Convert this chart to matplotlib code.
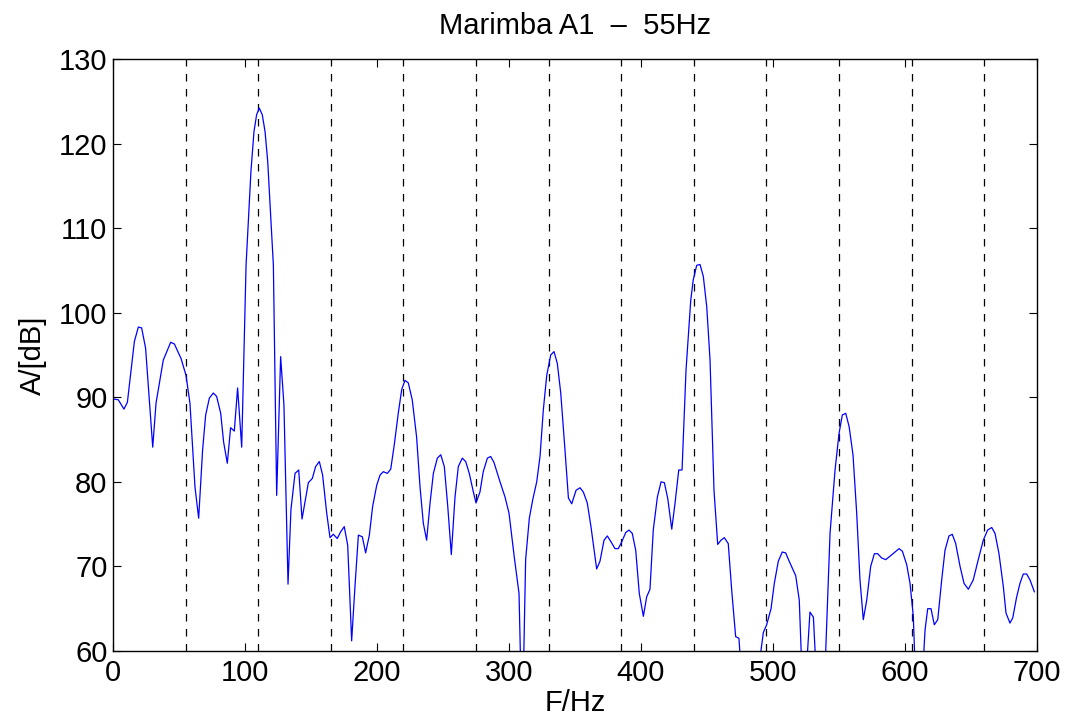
import numpy as np
import matplotlib
matplotlib.use("Agg")
import matplotlib.pyplot as plt

plt.rcParams['font.family'] = ['Liberation Sans', 'DejaVu Sans']

# spectrum (Hz, dB)
freq = [0.2, 4.0, 8.3, 10.9, 16.2, 19.2, 21.7, 24.7, 30.1, 32.6, 38.1, 43.7, 46.5, 51.5,
        55.3, 58.3, 62.1, 64.9, 67.9, 70.2, 73.0, 76.0, 78.5, 81.6, 83.8, 86.6, 89.1, 91.9,
        94.4, 97.5, 100.8, 102.5, 104.5, 106.8, 108.8, 110.8, 113.1, 115.2, 117.2, 119.5,
        121.5, 124.0, 127.0, 129.5, 132.6, 134.8, 137.9, 140.7, 143.2, 148.0, 151.0, 153.5,
        156.3, 158.8, 161.9, 164.4, 166.9, 169.9, 172.5, 175.2, 177.8, 180.8, 183.3, 185.9,
        188.9, 191.4, 194.2, 196.7, 199.8, 202.3, 204.8, 207.8, 210.4, 213.1, 216.1, 218.7,
        221.2, 223.7, 226.7, 230.0, 232.6, 235.1, 237.6, 240.2, 242.7, 245.7, 248.3, 251.0,
        253.6, 256.3, 259.1, 261.6, 264.6, 267.2, 269.9, 273.0, 275.0, 278.0, 280.5, 283.6,
        286.1, 288.6, 293.2, 297.0, 300.0, 304.0, 307.6, 310.0, 312.6, 315.4, 318.0, 321.0,
        323.5, 326.0, 328.6, 331.6, 334.1, 336.6, 339.2, 342.4, 345.0, 347.5, 350.8, 353.8,
        356.3, 359.3, 362.1, 366.4, 368.9, 372.0, 374.5, 377.3, 380.3, 382.8, 385.4, 388.4,
        390.9, 393.4, 396.0, 398.7, 401.8, 404.3, 406.8, 409.3, 412.4, 415.2, 417.7, 420.3,
        423.3, 425.8, 428.6, 431.1, 434.1, 437.7, 439.6, 442.2, 444.7, 447.2, 449.8, 452.3,
        455.3, 458.1, 460.6, 463.1, 466.1, 468.7, 471.7, 474.2, 477.0, 482.0, 487.5, 490.0,
        492.7, 495.2, 498.5, 501.0, 504.0, 507.0, 509.6, 512.3, 517.2, 519.9, 522.5, 525.0,
        528.0, 530.6, 533.5, 536.5, 539.0, 543.2, 547.0, 550.0, 552.5, 555.1, 557.7, 560.6,
        563.4, 565.9, 568.4, 571.0, 574.0, 576.8, 579.3, 582.3, 585.4, 588.6, 592.4, 595.5,
        598.0, 601.3, 603.8, 606.3, 609.0, 612.5, 615.2, 617.2, 619.7, 622.2, 624.8, 627.8,
        630.3, 633.3, 635.8, 638.4, 641.7, 644.7, 648.0, 651.7, 655.5, 659.3, 662.6, 665.7,
        668.2, 671.2, 674.5, 676.5, 679.5, 681.6, 684.6, 687.1, 689.6, 692.2, 694.7, 698.0]
amp = [89.8, 89.7, 88.6, 89.4, 96.6, 98.3, 98.2, 95.8, 84.1, 89.3, 94.4, 96.5, 96.3, 94.6,
       92.6, 89.3, 79.4, 75.7, 83.8, 87.9, 89.9, 90.5, 90.1, 88.1, 84.7, 82.2, 86.4, 86.0,
       91.1, 84.1, 105.6, 110.8, 116.7, 121.4, 123.4, 124.2, 123.4, 121.4, 117.9, 111.2,
       105.6, 78.4, 94.8, 89.1, 67.9, 76.7, 81.0, 81.4, 75.6, 79.9, 80.4, 81.8,
       82.4, 80.8, 76.3, 73.4, 73.8, 73.3, 74.1, 74.7, 72.5, 61.2, 67.6, 73.7,
       73.5, 71.6, 73.7, 77.1, 79.6, 80.8, 81.2, 81.0, 81.5, 84.4, 88.1, 90.9,
       92.0, 91.7, 89.7, 85.3, 79.4, 75.1, 73.1, 77.5, 81.0, 82.8, 83.2, 81.8,
       77.1, 71.4, 78.2, 81.8, 82.8, 82.4, 81.0, 78.8, 77.5, 78.8, 81.2, 82.8,
       83.0, 82.3, 80.0, 78.2, 76.3, 71.1, 66.8, 50.0, 70.8, 75.7, 77.9, 80.0,
       83.0, 88.5, 92.6, 95.0, 95.4, 94.0, 90.5, 83.8, 78.1, 77.4, 79.0, 79.3,
       78.8, 77.5, 74.7, 69.7, 70.6, 73.1, 73.6, 72.9, 72.1, 72.1, 72.9, 74.0,
       74.3, 73.9, 71.9, 66.8, 64.1, 66.4, 67.3, 74.3, 78.2, 80.0, 79.9, 78.0,
       74.4, 77.5, 81.4, 81.4, 93.2, 101.5, 103.9, 105.6, 105.7, 104.3, 100.7, 94.4,
       79.0, 72.6, 73.1, 73.4, 72.7, 67.2, 61.7, 61.5, 55.0, 48.0, 52.0, 59.0,
       62.2, 63.1, 65.0, 68.0, 70.6, 71.7, 71.6, 70.6, 68.9, 66.0, 55.0, 57.0,
       64.6, 64.0, 55.0, 50.0, 56.0, 73.9, 81.4, 85.7, 87.9, 88.1, 86.5, 83.2,
       76.3, 68.4, 63.7, 66.0, 70.0, 71.5, 71.5, 71.0, 70.8, 71.2, 71.7, 72.1,
       71.8, 70.2, 68.0, 64.1, 52.0, 55.0, 62.5, 65.0, 65.0, 63.1, 63.7, 68.4,
       71.9, 73.6, 73.8, 72.7, 70.0, 68.0, 67.3, 68.4, 70.8, 73.1, 74.3, 74.6,
       73.9, 71.5, 67.6, 64.5, 63.3, 63.9, 66.4, 68.0, 69.1, 69.1, 68.4, 67.0]

harmonics = [55 * k for k in range(1, 13)]

fig = plt.figure(figsize=(10.66, 7.19), dpi=100)
ax = fig.add_axes([0.106, 0.0946, 0.8668, 0.8234])

for h in harmonics:
    ax.axvline(h, color='black', linestyle=(0, (6, 6)), linewidth=0.9)
ax.plot(freq, amp, color='blue', linewidth=0.9)

ax.set_xlim(0, 700)
ax.set_ylim(60, 130)
ax.set_xticks(np.arange(0, 701, 100))
ax.set_yticks(np.arange(60, 131, 10))
ax.tick_params(direction='in', length=6, width=0.8, top=True, right=True,
               labelsize=21)
ax.tick_params(axis='x', pad=6)
ax.tick_params(axis='y', pad=4)
for s in ax.spines.values():
    s.set_linewidth(1.0)

ax.set_title('Marimba A1  \u2013  55Hz', fontsize=21, pad=18)
ax.set_xlabel('F/Hz', fontsize=21, labelpad=1)
ax.set_ylabel('A/[dB]', fontsize=21, labelpad=9)

fig.savefig('out.png', dpi=100)
